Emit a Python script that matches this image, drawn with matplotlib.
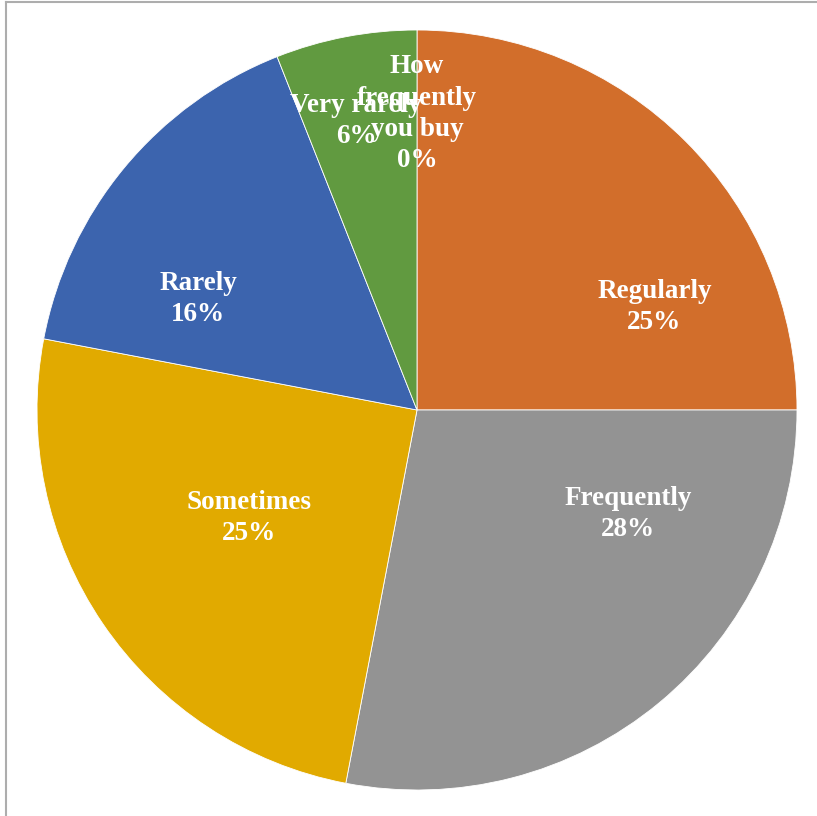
import matplotlib.pyplot as plt
from matplotlib.lines import Line2D

# survey answers, clockwise from 12 o'clock
labels = ['How\nfrequently\nyou buy', 'Regularly', 'Frequently', 'Sometimes', 'Rarely', 'Very rarely']
shares = [0, 25, 28, 25, 16, 6]
colors = ['#4472C4', '#D26E2B', '#939393', '#E1AA00', '#3C64AE', '#619A40']

# where each data label sits (in units of the radius)
label_pos = [(0.0, 0.78), (0.625, 0.272), (0.555, -0.274), (-0.442, -0.284), (-0.576, 0.292), (-0.16, 0.76)]

W, H = 817, 816
fig = plt.figure(figsize=(W / 100, H / 100), dpi=100)
cx, cy, r = 417, 410, 380
ax = fig.add_axes([(cx - r) / W, (H - cy - r) / H, 2 * r / W, 2 * r / H])

ax.pie(shares, colors=colors, startangle=90, counterclock=False, radius=1,
       wedgeprops=dict(edgecolor='white', linewidth=0.6))
ax.set_xlim(-1, 1)
ax.set_ylim(-1, 1)
ax.set_aspect('equal')
ax.axis('off')

for lab, val, (x, y) in zip(labels, shares, label_pos):
    ax.text(x, y, f'{lab}\n{val}%', ha='center', va='center', color='white',
            fontsize=19.5, fontweight='bold', family='Liberation Serif', linespacing=1.32)

# chart area frame (only left and top edges show)
fig.add_artist(Line2D([6 / W, 6 / W], [0, 1 - 1.5 / H], color='#ADADAD', lw=1.5))
fig.add_artist(Line2D([6 / W, 1], [1 - 1.5 / H, 1 - 1.5 / H], color='#ADADAD', lw=1.5))

fig.savefig('out.png', dpi=100)
